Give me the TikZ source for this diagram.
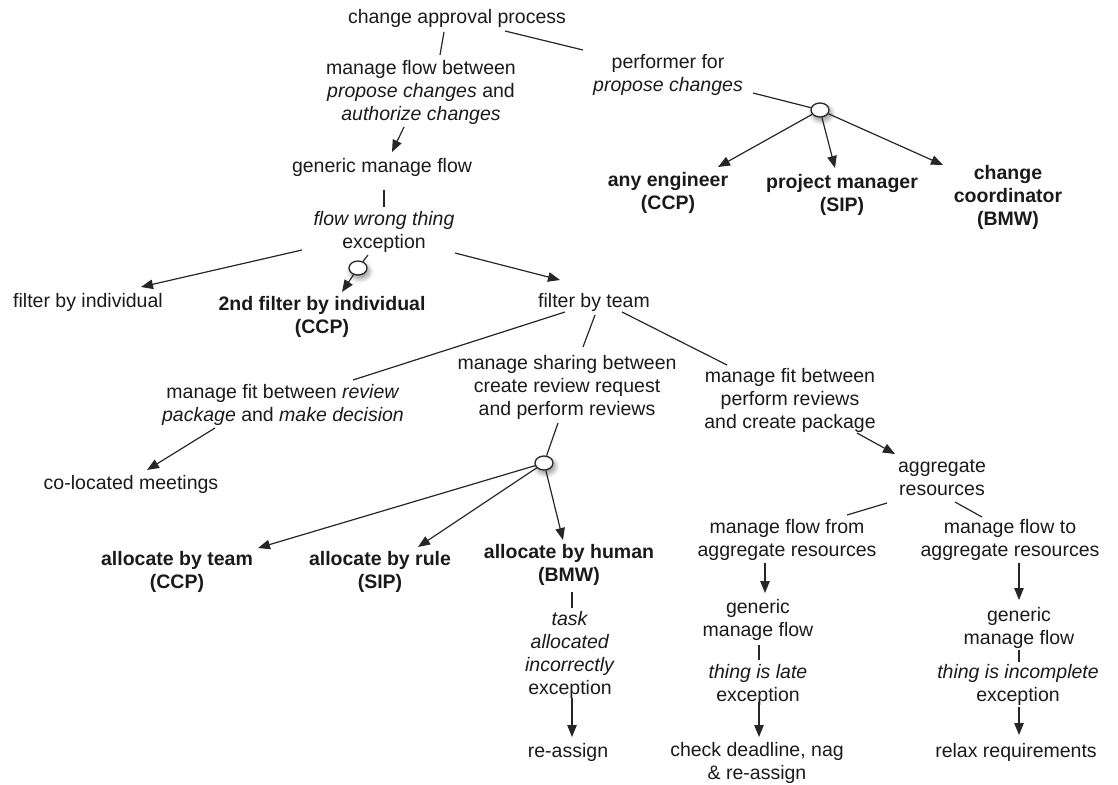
\documentclass[tikz,border=0pt]{standalone}
\usepackage{fontspec}
\setmainfont{Liberation Sans}
\usetikzlibrary{arrows.meta,shapes.geometric,shadows.blur}

\definecolor{ink}{HTML}{1A1A1A}
\definecolor{wire}{HTML}{262626}

\tikzset{
  lbl/.style={align=center, inner sep=0pt, text=ink,
              font=\fontsize{19.5pt}{23pt}\selectfont},
  strong/.style={lbl, font=\fontsize{19.5pt}{23pt}\selectfont\bfseries},
  junction/.style={ellipse, draw=wire, fill=white, line width=1.3pt,
                   minimum width=18pt, minimum height=14pt, inner sep=0pt,
                   blur shadow={shadow xshift=2pt, shadow yshift=-3.5pt,
                                shadow blur radius=5pt, shadow blur steps=10,
                                shadow opacity=45}},
  link/.style={draw=wire, line width=1.2pt},
  flow/.style={link, -{Triangle[length=12pt,width=9.5pt]}}
}

\begin{document}
\begin{tikzpicture}[x=1pt, y=-1pt]
\useasboundingbox (0,0) rectangle (1118,784);

% ---- top: process and its performers
\node[lbl] (cap) at (457,18) {change approval process};
\node[lbl] (mf1) at (421,92) {manage flow between\\\textit{propose changes} and\\\textit{authorize changes}};
\node[lbl] (pf) at (668,75) {performer for\\\textit{propose changes}};
\node[junction] (c1) at (820,110) {};
\node[strong] (ae) at (668,193) {any engineer\\(CCP)};
\node[strong] (pm) at (842,195) {project manager\\(SIP)};
\node[strong] (cc) at (1008,197) {change\\coordinator\\(BMW)};

% ---- generic flow and its exception handlers
\node[lbl] (gmf) at (382,167) {generic manage flow};
\node[lbl] (fwt) at (384,232) {\textit{flow wrong thing}\\exception};
\node[junction] (c2) at (358,268) {};
\node[lbl] (fbi) at (88,302) {filter by individual};
\node[strong] (snd) at (322,317) {2nd filter by individual\\(CCP)};
\node[lbl] (fbt) at (594,302) {filter by team};

% ---- team filtering
\node[lbl] (mfit1) at (283,405) {manage fit between \textit{review}\\\textit{package} and \textit{make decision}};
\node[lbl] (clm) at (131,484) {co-located meetings};
\node[lbl] (msh) at (567,387) {manage sharing between\\create review request\\and perform reviews};
\node[junction] (c3) at (544,463) {};
\node[strong] (abt) at (177,572) {allocate by team\\(CCP)};
\node[strong] (abr) at (380,572) {allocate by rule\\(SIP)};
\node[strong] (abh) at (569,565) {allocate by human\\(BMW)};
\node[lbl] (tame) at (570,655) {\textit{task}\\\textit{allocated}\\\textit{incorrectly}\\exception};
\node[lbl] (ra) at (568,752) {re-assign};

% ---- aggregation branch
\node[lbl] (mfit2) at (790,400) {manage fit between\\perform reviews\\and create package};
\node[lbl] (agg) at (942,478) {aggregate\\resources};
\node[lbl] (mff) at (787,540) {manage flow from\\aggregate resources};
\node[lbl] (mft) at (1010,540) {manage flow to\\aggregate resources};
\node[lbl] (gmf2) at (758,620) {generic\\manage flow};
\node[lbl] (til) at (758,685) {\textit{thing is late}\\exception};
\node[lbl] (cd) at (757,763) {check deadline, nag\\\& re-assign};
\node[lbl] (gmf3) at (1019,628) {generic\\manage flow};
\node[lbl] (tii) at (1018,685) {\textit{thing is incomplete}\\exception};
\node[lbl] (rr) at (1016,752) {relax requirements};

% ---- connectors
\draw[link] ([shift={(-13,14)}]cap.center) -- ([shift={(19,-37)}]mf1.center);
\draw[link] ([shift={(48,13)}]cap.center) -- ([shift={(-85,-25)}]pf.center);
\draw[flow] ([shift={(-17,35)}]mf1.center) -- ([shift={(10,-15)}]gmf.center);
\draw[link] ([shift={(85,18)}]pf.center) -- (c1);
\draw[flow] (c1) -- ([shift={(50,-26)}]ae.center);
\draw[flow] (c1) -- ([shift={(-7,-27)}]pm.center);
\draw[flow] (c1) -- ([shift={(-65,-32)}]cc.center);

\draw[link] ([shift={(2,23)}]gmf.center) -- ([shift={(0,-25)}]fwt.center);
\draw[flow] ([shift={(-82,18)}]fwt.center) -- ([shift={(53,-15)}]fbi.center);
\draw[link] ([shift={(-16,23)}]fwt.center) -- (c2);
\draw[flow] (c2) -- ([shift={(20,-25)}]snd.center);
\draw[flow] ([shift={(71,21)}]fwt.center) -- ([shift={(-34,-22)}]fbt.center);

\draw[link] ([shift={(-29,10)}]fbt.center) -- ([shift={(70,-25)}]mfit1.center);
\draw[link] ([shift={(1,13)}]fbt.center) -- ([shift={(16,-40)}]msh.center);
\draw[link] ([shift={(28,10)}]fbt.center) -- ([shift={(-63,-35)}]mfit2.center);
\draw[flow] ([shift={(-68,23)}]mfit1.center) -- ([shift={(16,-14)}]clm.center);

\draw[link] ([shift={(-9,36)}]msh.center) -- (c3);
\draw[flow] (c3) -- ([shift={(81,-24)}]abt.center);
\draw[flow] (c3) -- ([shift={(38,-25)}]abr.center);
\draw[flow] (c3) -- ([shift={(-6,-25)}]abh.center);
\draw[link] ([shift={(3,27)}]abh.center) -- ([shift={(2,-47)}]tame.center);
\draw[flow] ([shift={(2,43)}]tame.center) -- ([shift={(4,-15)}]ra.center);

\draw[flow] ([shift={(67,33)}]mfit2.center) -- ([shift={(-47,-24)}]agg.center);
\draw[link] ([shift={(-55,25)}]agg.center) -- ([shift={(60,-25)}]mff.center);
\draw[link] ([shift={(13,24)}]agg.center) -- ([shift={(-28,-23)}]mft.center);
\draw[flow] ([shift={(-22,23)}]mff.center) -- ([shift={(7,-27)}]gmf2.center);
\draw[link] ([shift={(1,25)}]gmf2.center) -- ([shift={(1,-25)}]til.center);
\draw[flow] ([shift={(1,17)}]til.center) -- ([shift={(2,-26)}]cd.center);
\draw[flow] ([shift={(9,23)}]mft.center) -- ([shift={(0,-28)}]gmf3.center);
\draw[link] ([shift={(0,22)}]gmf3.center) -- ([shift={(1,-23)}]tii.center);
\draw[flow] ([shift={(1,22)}]tii.center) -- ([shift={(3,-17)}]rr.center);
\end{tikzpicture}
\end{document}
